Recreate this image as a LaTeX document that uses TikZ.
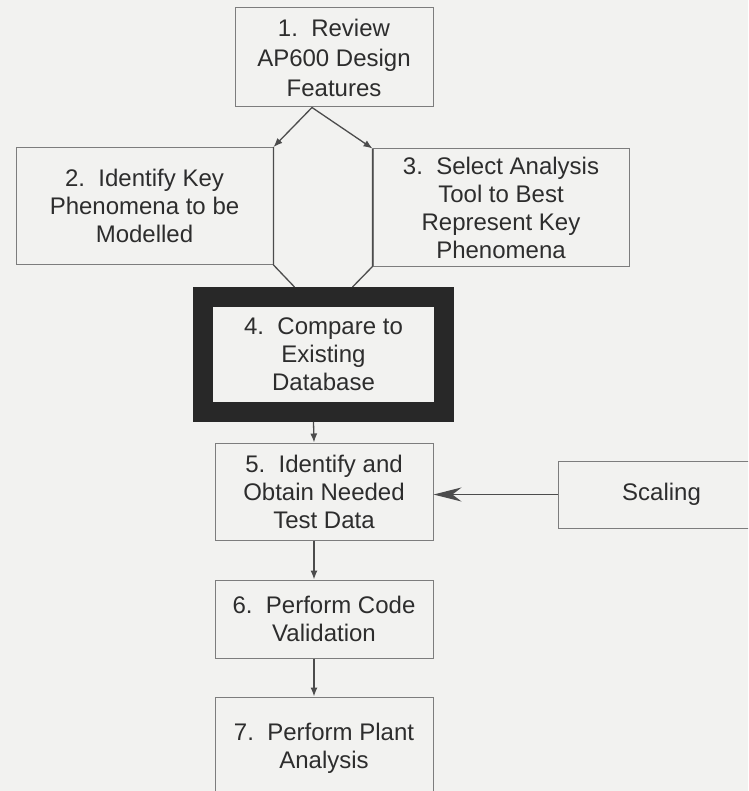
\documentclass[tikz,border=0pt]{standalone}
\usepackage{fontspec}
\setmainfont{Liberation Sans}
\usetikzlibrary{calc,arrows.meta}
\definecolor{bg}{RGB}{242,242,240}
\definecolor{ink}{RGB}{45,45,45}
\definecolor{edge}{RGB}{125,125,125}
\definecolor{heavy}{RGB}{40,40,40}
\begin{document}
\begin{tikzpicture}[x=1pt,y=-1pt,
  box/.style={draw=edge,line width=1pt,align=center,text=ink,
    font=\fontsize{24}{28}\selectfont,inner sep=0pt},
  conn/.style={draw=ink!85,line width=1.3pt},
  smalltip/.style={-{Latex[length=9pt,width=7pt]}}]
\clip (0,0) rectangle (748,791);
\fill[bg] (0,0) rectangle (748,791);
\node[box,minimum width=198pt,minimum height=99pt,font=\fontsize{24}{30}\selectfont] (b1) at (334,57.5) {1.~~Review\\AP600 Design\\Features};
\node[box,minimum width=257pt,minimum height=117pt] (b2) at (144.5,206) {2.~~Identify Key\\Phenomena to be\\Modelled};
\node[box,minimum width=256pt,minimum height=117pt] (b3) at (501,207.5) {3.~~Select Analysis\\Tool to Best\\Represent Key\\Phenomena};
\node[box,draw=heavy,line width=20pt,minimum width=241pt,minimum height=115pt] (b4) at (323.5,354.5) {4.~~Compare to\\Existing\\Database};
\node[box,minimum width=218pt,minimum height=97pt] (b5) at (324,491.5) {5.~~Identify and\\Obtain Needed\\Test Data};
\node[box,minimum width=218pt,minimum height=78pt] (b6) at (324,619) {6.~~Perform Code\\Validation};
\node[box,minimum width=218pt,minimum height=102pt] (b7) at (324,748) {7.~~Perform Plant\\Analysis};
\node[box,minimum width=207pt,minimum height=67pt] (sc) at (661.5,494.5) {Scaling};
\coordinate (apex) at ($(b1.south)+(-22,0)$);
\draw[conn,smalltip] (apex) -- (b2.north east);
\draw[conn,smalltip] (apex) -- (b3.north west);
\draw[conn] (b2.north east) -- (b2.south east) -- ($(b4.north)+(-29,0)$);
\draw[conn] (b3.north west) -- (b3.south west) -- ($(b4.north)+(29,0)$);
\draw[conn,smalltip] ($(b4.south)+(-10,0)$) -- ($(b5.north)+(-10,0)$);
\draw[conn,smalltip] ($(b5.south)+(-10,0)$) -- ($(b6.north)+(-10,0)$);
\draw[conn,smalltip] ($(b6.south)+(-10,0)$) -- ($(b7.north)+(-10,0)$);
\draw[conn,-{Stealth[length=28pt,width=14pt]}] (sc.west) -- (sc.west -| b5.east);
\end{tikzpicture}
\end{document}
